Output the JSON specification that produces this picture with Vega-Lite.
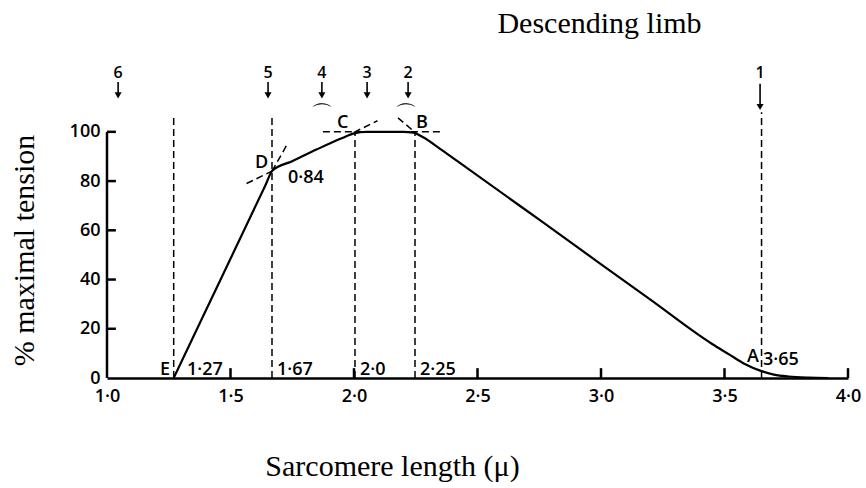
{
  "$schema": "https://vega.github.io/schema/vega-lite/v6.json",
  "width": 741,
  "height": 320,
  "autosize": {"type": "none"},
  "padding": {"left": 107, "top": 58, "right": 18, "bottom": 110},
  "background": "white",
  "title": {
    "text": "Descending limb",
    "font": "Liberation Serif",
    "fontSize": 30,
    "fontWeight": "normal",
    "color": "black",
    "anchor": "middle",
    "frame": "group",
    "dx": 122,
    "dy": 15,
    "baseline": "alphabetic",
    "offset": 10
  },
  "config": {
    "view": {"stroke": null},
    "axis": {"grid": false}
  },
  "datasets": {
    "curve": [
      {"len": 1.27, "t": 0},
      {"len": 1.4, "t": 27.4},
      {"len": 1.55, "t": 59},
      {"len": 1.64, "t": 78},
      {"len": 1.67, "t": 84.3},
      {"len": 1.75, "t": 88.1},
      {"len": 1.85, "t": 92.9},
      {"len": 1.95, "t": 97.4},
      {"len": 2.0, "t": 99.4},
      {"len": 2.05, "t": 100},
      {"len": 2.2, "t": 100},
      {"len": 2.24, "t": 99.7},
      {"len": 2.28, "t": 97.8},
      {"len": 2.35, "t": 93},
      {"len": 2.43, "t": 87.3},
      {"len": 2.75, "t": 64.3},
      {"len": 3.2, "t": 31.8},
      {"len": 3.45, "t": 13.8},
      {"len": 3.52, "t": 9.5},
      {"len": 3.58, "t": 5.8},
      {"len": 3.65, "t": 2.8},
      {"len": 3.7, "t": 1.4},
      {"len": 3.76, "t": 0.6},
      {"len": 3.84, "t": 0.15},
      {"len": 3.92, "t": 0}
    ],
    "guides": [
      {"x1": 1.27, "y1": 0, "x2": 1.27, "y2": 105.6},
      {"x1": 1.668, "y1": 0, "x2": 1.668, "y2": 105.6},
      {"x1": 2.004, "y1": 0, "x2": 2.004, "y2": 99.5},
      {"x1": 2.247, "y1": 0, "x2": 2.247, "y2": 99.5},
      {"x1": 3.65, "y1": 0, "x2": 3.65, "y2": 108},
      {"x1": 1.874, "y1": 100, "x2": 2.36, "y2": 100},
      {"x1": 2.0, "y1": 99.8, "x2": 2.095, "y2": 104.5},
      {"x1": 1.565, "y1": 79, "x2": 1.68, "y2": 84.6},
      {"x1": 1.668, "y1": 84, "x2": 1.73, "y2": 95},
      {"x1": 2.178, "y1": 105.7, "x2": 2.245, "y2": 100}
    ],
    "frame": [
      {"x1": 1.0, "y1": 0, "x2": 1.0, "y2": 100},
      {"x1": 1.5, "y1": 0, "x2": 1.5, "y2": 4},
      {"x1": 2.0, "y1": 0, "x2": 2.0, "y2": 4},
      {"x1": 2.5, "y1": 0, "x2": 2.5, "y2": 4},
      {"x1": 3.0, "y1": 0, "x2": 3.0, "y2": 4},
      {"x1": 3.5, "y1": 0, "x2": 3.5, "y2": 4},
      {"x1": 4.0, "y1": 0, "x2": 4.0, "y2": 4},
      {"x1": 1.0, "y1": 20, "x2": 1.036, "y2": 20},
      {"x1": 1.0, "y1": 40, "x2": 1.036, "y2": 40},
      {"x1": 1.0, "y1": 60, "x2": 1.036, "y2": 60},
      {"x1": 1.0, "y1": 80, "x2": 1.036, "y2": 80},
      {"x1": 1.0, "y1": 100, "x2": 1.036, "y2": 100}
    ],
    "arrows": [
      {"n": "6", "x": 1.045, "top": 120.2, "tip": 114.8},
      {"n": "5", "x": 1.652, "top": 120.2, "tip": 114.8},
      {"n": "4", "x": 1.87, "top": 120.2, "tip": 114.8},
      {"n": "3", "x": 2.053, "top": 120.2, "tip": 114.8},
      {"n": "2", "x": 2.219, "top": 120.2, "tip": 114.8},
      {"n": "1", "x": 3.644, "top": 119.5, "tip": 110.1}
    ],
    "notes": [
      {"label": "E", "x": 1.215, "y": 1.2},
      {"label": "1·27", "x": 1.324, "y": 1.2},
      {"label": "1·67", "x": 1.688, "y": 1.2},
      {"label": "2·0", "x": 2.024, "y": 1.2},
      {"label": "2·25", "x": 2.267, "y": 1.2},
      {"label": "A", "x": 3.591, "y": 6.5},
      {"label": "3·65", "x": 3.656, "y": 5.3},
      {"label": "D", "x": 1.599, "y": 85.3},
      {"label": "0·84", "x": 1.733, "y": 79.2},
      {"label": "C", "x": 1.931, "y": 101.6},
      {"label": "B", "x": 2.251, "y": 101.6}
    ],
    "arcs": [
      {"x": 1.87, "y": 107.3},
      {"x": 2.21, "y": 107.3}
    ]
  },
  "layer": [
    {
      "data": {"name": "curve"},
      "mark": {"type": "line", "color": "black", "strokeWidth": 2.2, "interpolate": "monotone"},
      "encoding": {
        "x": {
          "field": "len",
          "type": "quantitative",
          "scale": {"domain": [1, 4], "nice": false, "zero": false},
          "axis": {
            "values": [1, 1.5, 2, 2.5, 3, 3.5, 4],
            "labelExpr": "replace(format(datum.value, '.1f'), '.', '·')",
            "labelFont": "Open Sans",
            "labelFontSize": 18,
            "labelFontWeight": 600,
            "labelColor": "black",
            "labelPadding": 9,
            "labelFlush": false,
            "labelOverlap": false,
            "ticks": false,
            "domainColor": "black",
            "domainWidth": 2.5,
            "title": "Sarcomere length (μ)",
            "titleFont": "Liberation Serif",
            "titleFontSize": 30,
            "titleFontWeight": "normal",
            "titleColor": "black",
            "titleX": 285,
            "titleY": 97,
            "titleAlign": "center",
            "titleBaseline": "alphabetic"
          }
        },
        "y": {
          "field": "t",
          "type": "quantitative",
          "scale": {"domain": [0, 130], "nice": false},
          "axis": {
            "values": [0, 20, 40, 60, 80, 100],
            "domain": false,
            "labelFont": "Open Sans",
            "labelFontSize": 18,
            "labelFontWeight": 600,
            "labelColor": "black",
            "labelPadding": 7,
            "labelFlush": false,
            "labelOverlap": false,
            "ticks": false,
            "title": "% maximal tension",
            "titleFont": "Liberation Serif",
            "titleFontSize": 30,
            "titleFontWeight": "normal",
            "titleColor": "black",
            "titleAngle": 270,
            "titleX": -74,
            "titleY": 192,
            "titleAlign": "center",
            "titleBaseline": "alphabetic"
          }
        }
      }
    },
    {
      "data": {"name": "guides"},
      "mark": {"type": "rule", "color": "black", "strokeWidth": 1.5, "strokeDash": [7, 4]},
      "encoding": {
        "x": {"field": "x1", "type": "quantitative"},
        "y": {"field": "y1", "type": "quantitative"},
        "x2": {"field": "x2"},
        "y2": {"field": "y2"}
      }
    },
    {
      "data": {"name": "frame"},
      "mark": {"type": "rule", "color": "black", "strokeWidth": 2.5},
      "encoding": {
        "x": {"field": "x1", "type": "quantitative"},
        "y": {"field": "y1", "type": "quantitative"},
        "x2": {"field": "x2"},
        "y2": {"field": "y2"}
      }
    },
    {
      "data": {"name": "arrows"},
      "mark": {"type": "rule", "color": "black", "strokeWidth": 1.6},
      "encoding": {
        "x": {"field": "x", "type": "quantitative"},
        "y": {"field": "top", "type": "quantitative"},
        "y2": {"field": "tip"}
      }
    },
    {
      "data": {"name": "arrows"},
      "mark": {"type": "point", "shape": "triangle-down", "filled": true, "color": "black", "size": 50, "opacity": 1},
      "encoding": {
        "x": {"field": "x", "type": "quantitative"},
        "y": {"field": "tip", "type": "quantitative"}
      }
    },
    {
      "data": {"name": "arrows"},
      "mark": {"type": "text", "font": "Open Sans", "fontSize": 16, "fontWeight": 600, "color": "black", "align": "center", "baseline": "alphabetic"},
      "encoding": {
        "x": {"field": "x", "type": "quantitative"},
        "y": {"datum": 121.9, "type": "quantitative"},
        "text": {"field": "n"}
      }
    },
    {
      "data": {"name": "notes"},
      "mark": {"type": "text", "font": "Open Sans", "fontSize": 18, "fontWeight": 600, "color": "black", "align": "left", "baseline": "alphabetic"},
      "encoding": {
        "x": {"field": "x", "type": "quantitative"},
        "y": {"field": "y", "type": "quantitative"},
        "text": {"field": "label"}
      }
    },
    {
      "data": {"name": "arcs"},
      "mark": {"type": "text", "font": "DejaVu Sans", "fontSize": 22, "color": "black", "align": "center", "baseline": "middle", "text": "⌒"},
      "encoding": {
        "x": {"field": "x", "type": "quantitative"},
        "y": {"field": "y", "type": "quantitative"}
      }
    }
  ]
}
